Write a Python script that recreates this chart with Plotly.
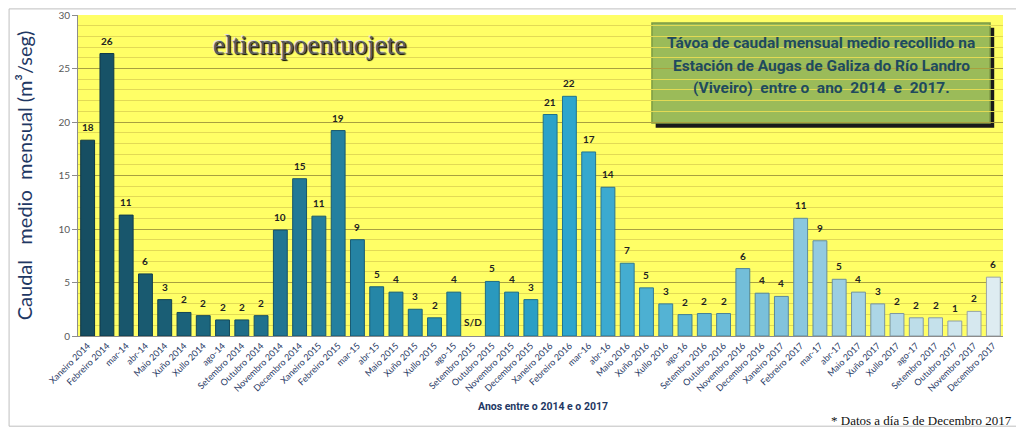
import plotly.graph_objects as go

months = ["Xaneiro 2014", "Febreiro 2014", "mar-14", "abr-14", "Maio 2014", "Xuño 2014", "Xullo 2014", "ago-14",
          "Setembro 2014", "Outubro 2014", "Novembro 2014", "Decembro 2014",
          "Xaneiro 2015", "Febreiro 2015", "mar-15", "abr-15", "Maio 2015", "Xuño 2015", "Xullo 2015", "ago-15",
          "Setembro 2015", "Outubro 2015", "Novembro 2015", "Decembro 2015",
          "Xaneiro 2016", "Febreiro 2016", "mar-16", "abr-16", "Maio 2016", "Xuño 2016", "Xullo 2016", "ago-16",
          "Setembro 2016", "Outubro 2016", "Novembro 2016", "Decembro 2016",
          "Xaneiro 2017", "Febreiro 2017", "mar-17", "abr-17", "Maio 2017", "Xuño 2017", "Xullo 2017", "ago-17",
          "Setembro 2017", "Outubro 2017", "Novembro 2017", "Decembro 2017"]

caudal = [18.3, 26.4, 11.3, 5.8, 3.4, 2.2, 1.9, 1.5, 1.5, 1.9, 9.9, 14.7,
          11.2, 19.2, 9.0, 4.6, 4.1, 2.5, 1.7, 4.1, None, 5.1, 4.1, 3.4,
          20.7, 22.4, 17.2, 13.9, 6.8, 4.5, 3.0, 2.0, 2.1, 2.1, 6.3, 4.0,
          3.7, 11.0, 8.9, 5.3, 4.1, 3.0, 2.1, 1.7, 1.7, 1.4, 2.3, 5.5]

labels = ["18", "26", "11", "6", "3", "2", "2", "2", "2", "2", "10", "15",
          "11", "19", "9", "5", "4", "3", "2", "4", "S/D", "5", "4", "3",
          "21", "22", "17", "14", "7", "5", "3", "2", "2", "2", "6", "4",
          "4", "11", "9", "5", "4", "3", "2", "2", "2", "1", "2", "6"]

y_ticks = [0, 5, 10, 15, 20, 25, 30]

title_lines = ["Távoa de caudal mensual medio recollido na",
               "Estación de Augas de Galiza do Río Landro",
               "(Viveiro)  entre o  ano  2014  e  2017."]
logo_text = "eltiempoentuojete"
x_title = "Anos entre o 2014 e o 2017"
y_title = "Caudal   medio  mensual (m³/seg)"
footnote = "* Datos a día 5 de Decembro 2017"

# colour gradient across bars (style)
stops = [(0, (22, 78, 98)), (12, (35, 125, 155)), (25, (45, 165, 205)), (36, (130, 195, 220)), (47, (222, 236, 241))]


def grad(i):
    for (a, ca), (b, cb) in zip(stops[:-1], stops[1:]):
        if a <= i <= b:
            t = (i - a) / (b - a)
            return [round(ca[k] + (cb[k] - ca[k]) * t) for k in range(3)]
    return [200, 220, 230]


rgb = [grad(i) for i in range(len(months))]
colors = [f"rgb({r},{g},{b})" for r, g, b in rgb]
line_colors = [f"rgb({int(r*0.7)},{int(g*0.7)},{int(b*0.7)})" for r, g, b in rgb]

fig = go.Figure()
fig.add_trace(go.Bar(
    x=months, y=caudal,
    marker=dict(color=colors, line=dict(color=line_colors, width=1)),
    hoverinfo="x+y",
))

annotations = []
for m, v, lab in zip(months, caudal, labels):
    if v is None:
        annotations.append(dict(x=m, y=0, text="<b>S/D</b>", showarrow=False, yshift=14,
                                font=dict(size=10, color="#222222", family="Lato")))
    else:
        annotations.append(dict(x=m, y=v, text=f"<b>{lab}</b>", showarrow=False, yshift=13,
                                font=dict(size=10, color="#222222", family="Lato")))

# title box text (one annotation per line, ~22px spacing)
for k, line in enumerate(title_lines):
    annotations.append(dict(xref="paper", yref="paper", x=0.8035, y=0.912 - k * 0.0695,
                            xanchor="center", yanchor="middle",
                            text=f"<b>{line}</b>", showarrow=False, align="center",
                            font=dict(size=15.5, color="#1F4A5E", family="Roboto")))
# logo
annotations.append(dict(xref="paper", yref="paper", x=0.25, y=0.905, xanchor="center", yanchor="middle",
                        text=logo_text, showarrow=False,
                        font=dict(size=27, color="#5a5a5a", family="Liberation Serif",
                                  shadow="1px 1px 1px #000, -1px -1px 0px #ddd")))
# x title
annotations.append(dict(xref="paper", yref="paper", x=0.503, y=-0.221, xanchor="center", yanchor="middle",
                        text=f"<b>{x_title}</b>",
                        showarrow=False, font=dict(size=10.5, color="#1F3864", family="Roboto")))
# footnote
annotations.append(dict(xref="paper", yref="paper", x=1.012, y=-0.262, xanchor="right", yanchor="middle",
                        text=footnote,
                        showarrow=False, font=dict(size=13, color="#111111", family="Liberation Serif")))

shapes = [
    # outer border
    dict(type="rect", xref="paper", yref="paper", x0=-0.0745, x1=1.0185, y0=-0.281, y1=1.019,
         line=dict(color="#BFBFBF", width=1), layer="below"),
    # title box shadow
    dict(type="rect", xref="paper", yref="paper", x0=0.6245, x1=0.9905, y0=0.649, y1=0.96,
         fillcolor="#1a1a1a", line=dict(width=0), layer="below"),
    # title box
    dict(type="rect", xref="paper", yref="paper", x0=0.6205, x1=0.986, y0=0.6636, y1=0.975,
         fillcolor="#9BBB59", line=dict(color="#7E9A44", width=1.5), layer="below"),
]

fig.update_layout(
    width=1016, height=422,
    margin=dict(l=70, r=21, t=7, b=94),
    paper_bgcolor="white",
    plot_bgcolor="#FFFF66",
    showlegend=False,
    bargap=0.28,
    annotations=annotations,
    shapes=shapes,
    font=dict(family="Lato"),
)

fig.update_xaxes(
    tickangle=-45, tickfont=dict(size=9, color="#1F3864", family="Lato"),
    showline=True, linecolor="#8C8C8C", ticks="", showgrid=False, automargin=False,
)
fig.update_yaxes(
    range=[0, 30], tickvals=y_ticks, tickfont=dict(size=10, color="#595959", family="Lato"),
    ticks="outside", ticklen=5, tickcolor="#8C8C8C",
    showline=True, linecolor="#8C8C8C",
    showgrid=True, gridcolor="#A8A040", gridwidth=1,
    minor=dict(dtick=1, showgrid=True, gridcolor="#E2DA55", gridwidth=1),
    zeroline=False, automargin=False,
    title=dict(text=y_title, font=dict(size=20, color="#1F3864", family="Lato"), standoff=20),
)

fig.write_html("out.html")
